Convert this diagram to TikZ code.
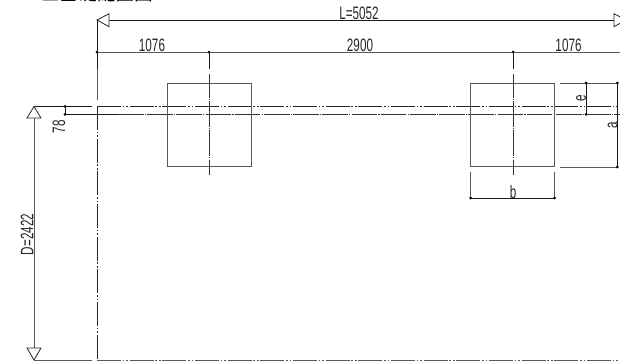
\documentclass[tikz,border=0pt]{standalone}
\usepackage{fontspec}
\setmainfont{Liberation Sans}
\newfontfamily\cjk{Noto Sans CJK JP}
\tikzset{
	dim/.style={line width=0.7pt, color=black!90},
	greydim/.style={line width=0.75pt, color=black!65},
	phantomline/.style={line width=0.7pt, color=black!85, dash pattern=on 18pt off 1.3pt on 1.3pt off 1.3pt on 1.3pt off 1.3pt},
	centerline/.style={line width=0.7pt, color=black!80, dash pattern=on 19.2pt off 0.9pt on 0.9pt off 0.9pt},
	outline/.style={line width=0.7pt, color=black!65},
	dimtext/.style={inner sep=0pt, font=\fontsize{13.5}{13.5}\selectfont, xscale=0.65, text=black!85},
	tri/.style={line width=0.6pt, color=black!85, fill=white},
}
\def\dotat(#1){\fill[black] (#1) circle (1.5);}
\begin{document}
\begin{tikzpicture}[x=0.75pt, y=-0.75pt]
			%%%%% frame %%%%%
			\useasboundingbox (0, 0) rectangle (620, 362);
			\clip (0, 0) rectangle (620, 362);

			\node[anchor=base west, inner sep=0pt, font=\cjk\fontsize{14}{14}\selectfont] (title) at (41, 0) {□基礎配置図};

			%%%%% top dimensions %%%%%
			\draw[dim] (97, 20) -- (626, 20);
			\draw[tri] (97, 20) -- (109, 13.7) -- (109, 26.7) -- cycle;
			\draw[tri] (626, 20) -- (614, 13.7) -- (614, 26.7) -- cycle;
			\node[dimtext] (ltext) at (359, 13.5) {L=5052};

			\draw[greydim] (97, 52) -- (620, 52);
			\dotat(97, 52) \dotat(209, 52) \dotat(513, 52)
			\node[dimtext] (ta) at (152, 45.5) {1076};
			\node[dimtext] (tb) at (360, 45.5) {2900};
			\node[dimtext] (tc) at (568.5, 45.5) {1076};

			%%%%% grid lines %%%%%
			\draw[dim] (97, 20) -- (97, 69);
			\draw[greydim] (97, 69) -- (97, 100);
			\draw[phantomline] (97, 106) -- (97, 360);
			\draw[dim] (34, 106.3) -- (92, 106.3);
			\draw[phantomline] (97, 106.3) -- (620, 106.3);
			\draw[dim] (65, 114.3) -- (118, 114.3);
			\draw[centerline] (118, 114.3) -- (620, 114.3);
			\draw[greydim] (34, 360) -- (92, 360);
			\draw[phantomline, greydim] (97, 360) -- (620, 360);

			%%%%% boxes %%%%%
			\draw[outline] (167.3, 83) rectangle (251.3, 166.7);
			\draw[outline] (470.7, 83) rectangle (554.7, 166.7);
			\draw[dim] (209, 52) -- (209, 69);
			\draw[dim] (513, 52) -- (513, 69);
			\draw[centerline, dash phase=1.5pt] (209, 74) -- (209, 175);
			\draw[centerline, dash phase=1.5pt] (513, 74) -- (513, 175);

			%%%%% D and 78 %%%%%
			\draw[greydim] (34, 112) -- (34, 354);
			\draw[tri] (34, 106.5) -- (27, 118) -- (41, 118) -- cycle;
			\draw[tri] (34, 360) -- (27, 348) -- (41, 348) -- cycle;
			\node[rotate=90, dimtext] (dtext) at (27, 234.5) {D=2422};
			\draw[dim] (65, 106.3) -- (65, 114.3);
			\dotat(65, 106.3) \dotat(65, 114.3)
			\node[rotate=90, dimtext] (t78) at (59, 126.5) {78};

			%%%%% a, b, e %%%%%
			\draw[greydim] (560, 83) -- (617.3, 83);
			\draw[greydim] (560, 167) -- (617.3, 167);
			\draw[dim] (586, 83) -- (586, 114.3);
			\dotat(586, 83) \dotat(586, 114.3)
			\draw[dim] (617.3, 83) -- (617.3, 167);
			\dotat(617.3, 83) \dotat(617.3, 167)
			\node[rotate=90, dimtext] (te) at (581, 98) {e};
			\node[rotate=90, dimtext] (tf) at (612.5, 125) {a};
			\draw[greydim] (470.7, 172) -- (470.7, 198);
			\draw[greydim] (554.7, 172) -- (554.7, 198);
			\draw[dim] (470.7, 198) -- (554.7, 198);
			\dotat(470.7, 198) \dotat(554.7, 198)
			\node[dimtext] (tg) at (513, 192.5) {b};
		\end{tikzpicture}
\end{document}
